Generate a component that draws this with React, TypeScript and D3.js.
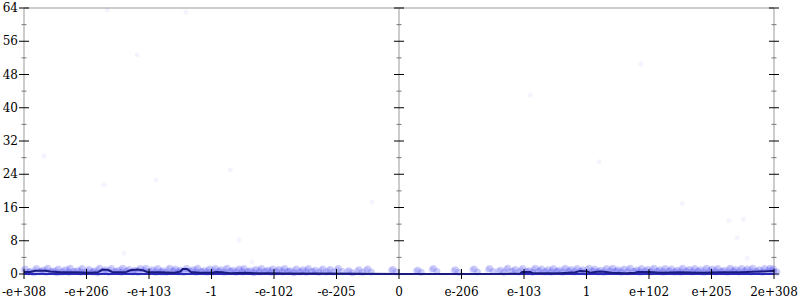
import React from "react";
import * as d3 from "d3";

const xLabels = ["-e+308", "-e+206", "-e+103", "-1", "-e-102", "-e-205", "0", "e-206", "e-103", "1", "e+102", "e+205", "2e+308"];
const yTicks = [0, 8, 16, 24, 32, 40, 48, 56, 64];
const yMinor = [4, 12, 20, 28, 36, 44, 52, 60];

// moving-average line: [x position in label units, value]
const lineX = [0, 0.1, 0.18, 0.34, 0.42, 0.58, 0.82, 1.06, 1.18, 1.25, 1.34, 1.41, 1.62, 1.7, 1.82, 1.9, 1.97, 2.18, 2.42, 2.5, 2.54, 2.61, 2.67, 2.82, 3.01, 3.07, 3.17, 3.3, 3.54, 3.7, 3.94, 4.26, 4.9, 5.38, 6.0, 6.8, 7.6, 7.94, 7.97, 8.1, 8.14, 8.58, 8.82, 8.9, 9.01, 9.06, 9.14, 9.22, 9.31, 9.41, 9.62, 9.78, 9.82, 10.02, 10.18, 10.5, 10.82, 11.14, 11.46, 11.78, 11.97, 12];
const lineY = [0.5, 0.5, 0.8, 0.8, 0.6, 0.4, 0.4, 0.3, 0.4, 1.0, 1.0, 0.5, 0.4, 0.9, 1.1, 0.9, 0.5, 0.4, 0.3, 0.6, 1.2, 1.2, 0.5, 0.3, 0.3, 0.5, 0.4, 0.2, 0.3, 0.2, 0.2, 0.1, 0.1, 0.05, 0, 0, 0, 0.1, 0.5, 0.5, 0.2, 0.2, 0.4, 0.7, 0.6, 0.3, 0.5, 0.6, 0.5, 0.3, 0.2, 0.3, 0.5, 0.5, 0.3, 0.4, 0.3, 0.4, 0.4, 0.6, 0.7, 0.7];

// dense band of samples near zero
const bandX = [0.02, 0.1, 0.2, 0.3, 0.38, 0.47, 0.55, 0.66, 0.74, 0.85, 0.93, 1.04, 1.12, 1.21, 1.3, 1.4, 1.5, 1.58, 1.68, 1.77, 1.86, 1.95, 2.05, 2.14, 2.22, 2.33, 2.42, 2.5, 2.6, 2.7, 2.78, 2.88, 2.97, 3.06, 3.15, 3.25, 3.34, 3.44, 3.52, 3.62, 3.71, 3.8, 3.9, 3.98, 4.08, 4.17, 4.26, 4.36, 4.46, 4.55, 4.66, 4.78, 4.9, 5.03, 5.2, 5.36, 5.5, 5.9, 6.3, 6.55, 6.9, 7.2, 7.45, 7.62, 7.74, 7.86, 7.98, 8.08, 8.18, 8.28, 8.38, 8.47, 8.56, 8.66, 8.75, 8.85, 8.94, 9.04, 9.13, 9.22, 9.32, 9.42, 9.5, 9.6, 9.7, 9.8, 9.88, 9.98, 10.08, 10.17, 10.26, 10.36, 10.45, 10.54, 10.64, 10.73, 10.82, 10.92, 11.01, 11.1, 11.2, 11.3, 11.38, 11.48, 11.57, 11.66, 11.76, 11.85, 11.94, 11.99];
const bandY = [1.2, 0.6, 1.3, 0.9, 1.4, 0.7, 1.2, 1.0, 1.4, 0.8, 1.3, 1.1, 0.7, 1.4, 1.0, 1.3, 0.8, 1.4, 1.1, 0.9, 1.3, 1.4, 1.0, 1.3, 0.8, 1.4, 1.2, 0.9, 1.3, 1.0, 1.4, 0.8, 1.2, 1.3, 1.0, 1.4, 0.9, 1.2, 1.3, 0.8, 1.1, 1.3, 0.9, 1.2, 1.1, 1.3, 0.8, 1.2, 1.0, 1.3, 0.9, 1.2, 1.1, 1.3, 0.8, 1.0, 1.2, 1.1, 0.9, 1.3, 1.0, 1.2, 1.3, 0.9, 1.4, 1.1, 1.3, 0.8, 1.4, 1.2, 1.0, 1.3, 0.9, 1.4, 1.1, 1.3, 1.0, 1.4, 1.2, 0.9, 1.3, 1.4, 1.0, 1.2, 1.4, 0.9, 1.3, 1.1, 1.4, 1.0, 1.3, 1.2, 0.9, 1.4, 1.1, 1.3, 1.0, 1.4, 1.2, 1.3, 0.9, 1.4, 1.1, 1.3, 1.2, 1.4, 1.0, 1.3, 1.4, 1.2];
// second, lower layer of the band (same x, shifted)
const band2Y = [0.5, 0.3, 0.6, 0.4, 0.6, 0.3, 0.5, 0.4, 0.6, 0.4, 0.5, 0.5, 0.3, 0.6, 0.4, 0.6, 0.4, 0.6, 0.5, 0.4, 0.6, 0.6, 0.4, 0.5, 0.4, 0.6, 0.5, 0.4, 0.6, 0.4, 0.6, 0.4, 0.5, 0.6, 0.4, 0.6, 0.4, 0.5, 0.6, 0.3, 0.5, 0.6, 0.4, 0.5, 0.5, 0.6, 0.3, 0.5, 0.4, 0.6, 0.4, 0.5, 0.5, 0.6, 0.3, 0.4, 0.5, 0.5, 0.4, 0.6, 0.4, 0.5, 0.6, 0.4, 0.6, 0.5, 0.6, 0.4, 0.6, 0.5, 0.4, 0.6, 0.4, 0.6, 0.5, 0.6, 0.4, 0.6, 0.5, 0.4, 0.6, 0.6, 0.4, 0.5, 0.6, 0.4, 0.6, 0.5, 0.6, 0.4, 0.6, 0.5, 0.4, 0.6, 0.5, 0.6, 0.4, 0.6, 0.5, 0.6, 0.4, 0.6, 0.5, 0.6, 0.5, 0.6, 0.4, 0.6, 0.6, 0.5];

// sparse outliers
const outX = [1.33, 2.59, 1.81, 0.32, 1.28, 2.11, 3.44, 1.6, 3.65, 5.57, 9.87, 10.53, 11.28, 11.51, 11.41, 11.57, 8.1, 9.2, 3.3];
const outY = [63.5, 63, 52.7, 28.4, 21.4, 22.6, 8.2, 5, 2.9, 17.3, 50.5, 17, 12.8, 13.2, 8.7, 3.8, 43, 27, 25];

const W = 800;
const H = 300;
const left = 24;
const right = 774;
const top = 8;
const bottom = 274;
const font = "'DejaVu Serif', 'Liberation Serif', 'Noto Serif', serif";

export default function App() {
  const x = d3.scaleLinear().domain([0, 12]).range([left, right]);
  const y = d3.scaleLinear().domain([0, 64]).range([bottom, top]);
  const line = d3.line<number>().x((_, i) => x(lineX[i])).y((d) => y(d)).curve(d3.curveLinear);
  const axesX = [x(0), x(6), x(12)];
  return (
    <svg width={W} height={H} style={{ position: "absolute", left: 0, top: 0 }}>
      <line x1={left} x2={right} y1={top} y2={top} stroke="#bbb" strokeWidth={1.5} />
      {axesX.map((ax, k) => (
        <line key={"ax" + k} x1={ax} x2={ax} y1={top} y2={bottom} stroke="#bbb" strokeWidth={1.5} />
      ))}
      {axesX.map((ax, k) => (
        <g key={"yt" + k}>
          {yTicks.map((t) => (
            <line key={t} x1={ax - 5} x2={ax + 5} y1={y(t)} y2={y(t)} stroke="#000" strokeWidth={1} />
          ))}
          {yMinor.map((t) => (
            <line key={t} x1={ax - 2.5} x2={ax + 2.5} y1={y(t)} y2={y(t)} stroke="#777" strokeWidth={1} />
          ))}
        </g>
      ))}
      {yTicks.map((t) => (
        <text key={t} x={left - 6} y={y(t)} dy="0.35em" textAnchor="end" fontSize={12} fill="#000" style={{ fontFamily: font }}>
          {t}
        </text>
      ))}
      {bandX.map((bx, i) => (
        <circle key={"b" + i} cx={x(bx)} cy={y(bandY[i])} r={3.5} fill="#3c3cf0" fillOpacity={0.25} />
      ))}
      {bandX.map((bx, i) => (
        <circle key={"c" + i} cx={x(bx) + 3.5} cy={y(band2Y[i])} r={3.5} fill="#3c3cf0" fillOpacity={0.25} />
      ))}
      {bandX.map((bx, i) => (
        <circle key={"d" + i} cx={x(bx) - 2} cy={y(bandY[i] * 0.8)} r={3} fill="#3c3cf0" fillOpacity={0.15} />
      ))}
      {outX.map((ox, i) => (
        <circle key={"o" + i} cx={x(ox)} cy={y(outY[i])} r={2.5} fill="#6a6af0" fillOpacity={0.07} />
      ))}
      <line x1={left} x2={right} y1={bottom} y2={bottom} stroke="#2a2ab8" strokeWidth={2} />
      <path d={line(lineY) || ""} fill="none" stroke="#1c1c80" strokeWidth={2} />
      {xLabels.map((lab, i) => (
        <g key={lab}>
          <line x1={x(i)} x2={x(i)} y1={bottom - 5} y2={bottom + 5} stroke="#000" strokeWidth={1} />
          <text x={x(i)} y={bottom + 22} textAnchor="middle" fontSize={12} fill="#000" style={{ fontFamily: font }}>
            {lab}
          </text>
        </g>
      ))}
    </svg>
  );
}
